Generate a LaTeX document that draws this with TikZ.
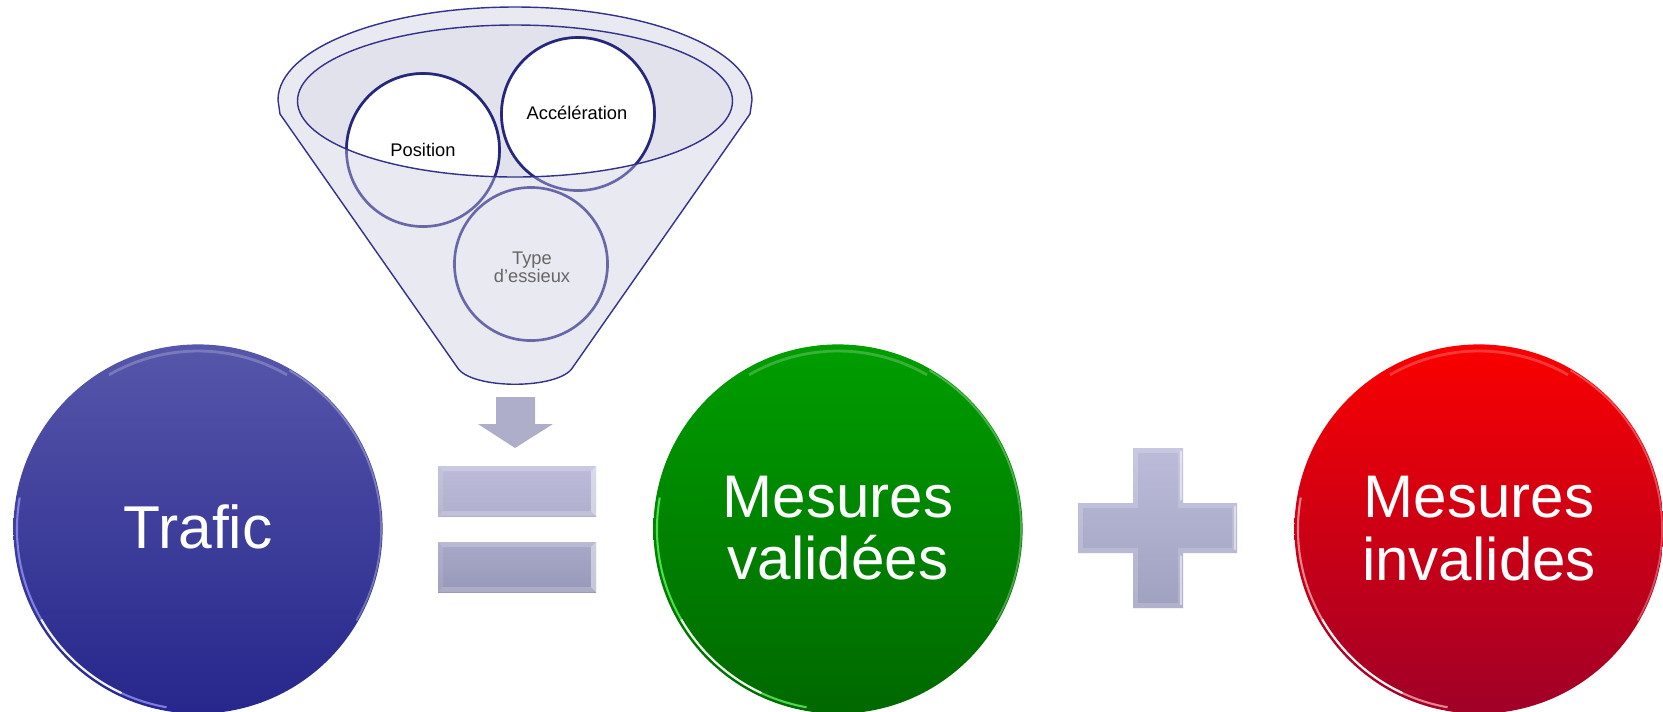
\documentclass[tikz,border=0pt]{standalone}
\usepackage{fontspec}
\setmainfont{Liberation Sans}
\definecolor{funfill}{RGB}{233,233,241}
\definecolor{innerfill}{RGB}{226,226,236}
\definecolor{funline}{RGB}{50,50,140}
\definecolor{darkring}{RGB}{38,38,125}
\definecolor{fadering}{RGB}{104,104,168}
\definecolor{arrowcol}{RGB}{174,174,203}
\definecolor{blueT}{RGB}{86,86,170}
\definecolor{blueM}{RGB}{46,46,154}
\definecolor{blueB}{RGB}{38,38,140}
\definecolor{greenT}{RGB}{0,158,0}
\definecolor{greenM}{RGB}{0,132,0}
\definecolor{greenB}{RGB}{0,104,0}
\definecolor{redT}{RGB}{250,0,0}
\definecolor{redM}{RGB}{210,0,16}
\definecolor{redB}{RGB}{160,0,40}
\newcommand\mybevel[4]{%
  \fill[white,opacity=.2] (#1,#2) -- (#3,#2) -- (#3-5,#2+5) -- (#1+5,#2+5) -- cycle;
  \fill[white,opacity=.1] (#1,#2) -- (#1+5,#2+5) -- (#1+5,#4-5) -- (#1,#4) -- cycle;
  \fill[white,opacity=.45] (#3,#2) -- (#3,#4) -- (#3-5,#4-5) -- (#3-5,#2+5) -- cycle;
  \fill[white,opacity=.2] (#1,#4) -- (#3,#4) -- (#3-5,#4-5) -- (#1+5,#4-5) -- cycle;
}
\begin{document}
\begin{tikzpicture}[x=0.01cm,y=-0.01cm,
  bigdisc/.style={circle, minimum size=3.69cm, inner sep=0pt, text=white,
    font=\fontsize{17.2}{18}\selectfont},
  bigtxt/.style={anchor=base, text=white, inner sep=0pt, font=\fontsize{17.1}{18}\selectfont},
  rimhi/.style={white, line width=0.6pt, opacity=0.75},
  tophi/.style={white, line width=0.8pt, opacity=0.22},
  fadec/.style={circle, minimum size=1.53cm, inner sep=0pt, draw=fadering, line width=0.75pt, fill=funfill, fill opacity=0.35},
  brightc/.style={draw=darkring, line width=0.75pt, fill=white},
  smalltxt/.style={inner sep=0pt, font=\fontsize{5.2}{5.2}\selectfont, align=center}
]
\useasboundingbox (0,0) rectangle (1663,711);

% ---------- funnel ----------
\path[fill=funfill, draw=funline, line width=0.4pt]
  (278,100) arc[start angle=180, end angle=360, x radius=237, y radius=93]
  -- (750,114) -- (573,367) .. controls (560,390) and (470,390) .. (457,367)
  -- (280,114) -- cycle;
\path[fill=innerfill] (515,101) ellipse[x radius=217.5, y radius=76];

\node[fadec] (cpos) at (423,150) {};
\node[fadec] (cacc) at (578,114) {};
\node[fadec] (ctyp) at (531,264) {};
\begin{scope}
  \clip (515,101) ellipse[x radius=217.5, y radius=76];
  \path[brightc] (cpos.center) circle[radius=76.5];
  \path[brightc] (cacc.center) circle[radius=76.5];
\end{scope}
\draw[funline, line width=0.4pt] (515,101) ellipse[x radius=217.5, y radius=76];

\node[smalltxt] (tpos) at (423,150) {Position};
\node[smalltxt] (tacc) at (577,113) {Accélération};
\node[smalltxt, text=black!60] (ttyp) at (532,267) {Type\\d’essieux};

% ---------- arrow ----------
\fill[arrowcol] (496,397) -- (535,397) -- (535,424) -- (553,424) -- (515,448)
  -- (478,424) -- (496,424) -- cycle;

% ---------- equals ----------
\shade[top color={rgb,255:red,188;green,188;blue,218}, bottom color={rgb,255:red,176;green,176;blue,206}]
  (438,466) rectangle (596,516);
\mybevel{438}{466}{596}{516}
\shade[top color={rgb,255:red,168;green,168;blue,200}, bottom color={rgb,255:red,152;green,152;blue,186}]
  (438,542) rectangle (596,592);
\mybevel{438}{542}{596}{592}

% ---------- plus ----------
\def\pluspath{(1133,448) -- (1183,448) -- (1183,503) -- (1237,503) -- (1237,553) -- (1183,553)
  -- (1183,608) -- (1133,608) -- (1133,553) -- (1078,553) -- (1078,503) -- (1133,503) -- cycle}
\shade[top color={rgb,255:red,188;green,188;blue,218}, bottom color={rgb,255:red,160;green,160;blue,192}]
  \pluspath;
\begin{scope}
  \clip \pluspath;
  \draw[white, opacity=0.18, line width=2.8pt] \pluspath;
\end{scope}
\draw[white, opacity=0.5, line width=0.7pt] (1181,451) -- (1181,500);
\draw[white, opacity=0.5, line width=0.7pt] (1235,506) -- (1235,550);
\draw[white, opacity=0.5, line width=0.7pt] (1181,556) -- (1181,605);

% ---------- circles ----------
\node[bigdisc, top color=blueT, middle color=blueM, bottom color=blueB] (trafic) at (198,529) {};
\node[bigdisc, top color=greenT, middle color=greenM, bottom color=greenB] (valid) at (838,529) {};
\node[bigdisc, top color=redT, middle color=redM, bottom color=redB] (inval) at (1479,529) {};

\foreach \c/\rim in {198/{blue!40!white}, 838/{green!60!white}, 1479/{red!30!white}} {
  \draw[rimhi, draw=\rim] ([shift={(100:181)}]\c,529) arc[start angle=100, end angle=190, radius=181];
  \draw[rimhi, opacity=0.9] ([shift={(115:181)}]\c,529) arc[start angle=115, end angle=150, radius=181];
  \draw[tophi] ([shift={(240:178)}]\c,529) arc[start angle=240, end angle=300, radius=178];
  \draw[white, line width=0.5pt, opacity=0.3] ([shift={(300:183)}]\c,529) arc[start angle=300, end angle=390, radius=183];
}

\node[inner sep=0pt, text=white, font=\fontsize{17.2}{18}\selectfont] (ttrafic) at (198,527) {Trafic};
\node[bigtxt] (tv1) at (838,517) {Mesures};
\node[bigtxt] (tv2) at (838,579) {validées};
\node[bigtxt] (ti1) at (1479,517) {Mesures};
\node[bigtxt] (ti2) at (1479,580) {invalides};
\end{tikzpicture}
\end{document}
